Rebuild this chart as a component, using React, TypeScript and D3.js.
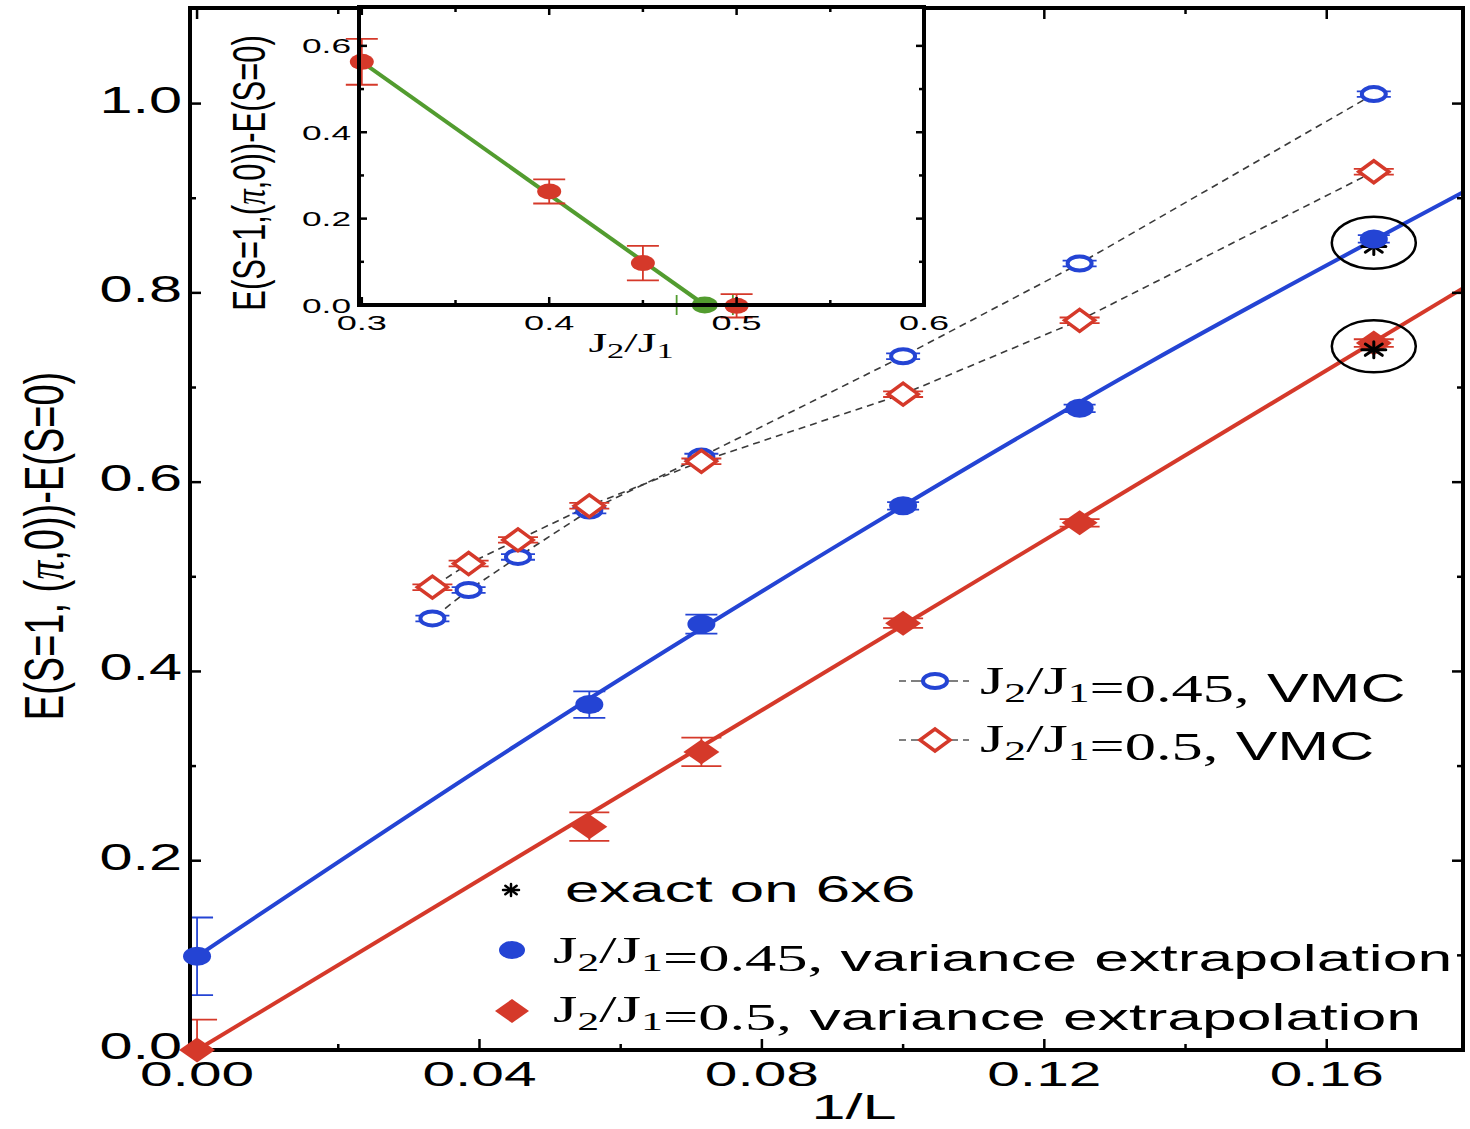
import React from 'react';
import * as d3 from 'd3';

// ---------- data (main panel) ----------
const invL = [1 / 6, 1 / 8, 1 / 10, 1 / 14, 1 / 18, 1 / 22, 1 / 26, 1 / 30];
const vmc045 = [1.010, 0.831, 0.733, 0.627, 0.570, 0.521, 0.486, 0.456];
const vmc050 = [0.928, 0.771, 0.693, 0.622, 0.575, 0.539, 0.514, 0.489];
const vmcErr = [0.003, 0.003, 0.003, 0.003, 0.003, 0.003, 0.003, 0.003];

const extX = [0, 1 / 18, 1 / 14, 1 / 10, 1 / 8, 1 / 6];
const ext045 = [0.099, 0.365, 0.450, 0.575, 0.678, 0.857];
const ext045Err = [0.041, 0.014, 0.01, 0.004, 0.004, 0.004];
const ext050 = [0.0, 0.236, 0.315, 0.451, 0.557, 0.747];
const ext050Err = [0.032, 0.015, 0.015, 0.005, 0.004, 0.004];

// fitted curves
const fit045X = [0, 0.045, 0.09, 0.135, 0.18];
const fit045 = [0.099, 0.321, 0.530, 0.727, 0.909];
const fit050X = [0, 0.18];
const fit050 = [0.0, 0.808];

const exactX = [1 / 6];
const exact045 = [0.849];
const exact050 = [0.740];

const xTicksMain = [0, 0.04, 0.08, 0.12, 0.16];
const xMinorMain = [0.02, 0.06, 0.10, 0.14];
const yTicksMain = [0, 0.2, 0.4, 0.6, 0.8, 1.0];
const yMinorMain = [0.1, 0.3, 0.5, 0.7, 0.9];

// ---------- data (inset) ----------
const insetJ = [0.3, 0.4, 0.45, 0.5];
const insetGap = [0.563, 0.263, 0.097, -0.002];
const insetErr = [0.053, 0.028, 0.04, 0.027];
const criticalJ = [0.483];
const criticalGap = [0];
const criticalErr = [0.015];
const insetFitJ = [0.3, 0.483];
const insetFitGap = [0.563, 0.0];

const xTicksInset = [0.3, 0.4, 0.5, 0.6];
const xMinorInset = [0.35, 0.45, 0.55];
const yTicksInset = [0.0, 0.2, 0.4, 0.6];
const yMinorInset = [0.1, 0.3, 0.5];

// ---------- style ----------
const BLUE = '#2444d4';
const RED = '#d5392a';
const GREEN = '#529c2f';
const SANS = '"Liberation Sans", Arial, Helvetica, sans-serif';
const SERIF = '"Liberation Serif", "Times New Roman", serif';

function SText({ x, y, sx = 1, anchor = 'start', size, family = SANS, children }: any) {
  return (
    <text
      transform={`translate(${x},${y}) scale(${sx},1)`}
      textAnchor={anchor}
      fontSize={size}
      fontFamily={family}
      fill="#000"
    >
      {children}
    </text>
  );
}

function diamond(cx: number, cy: number, w: number, h: number) {
  return `M${cx - w},${cy} L${cx},${cy - h} L${cx + w},${cy} L${cx},${cy + h} Z`;
}

function Asterisk({ cx, cy, rx, ry, sw }: any) {
  const angs = [0, 45, 90, 135];
  return (
    <g stroke="#000" strokeWidth={sw} strokeLinecap="round">
      {angs.map((a) => {
        const r = (a * Math.PI) / 180;
        const dx = Math.cos(r) * rx;
        const dy = Math.sin(r) * ry;
        return <line key={a} x1={cx - dx} y1={cy - dy} x2={cx + dx} y2={cy + dy} />;
      })}
    </g>
  );
}

function ErrBar({ x, y1, y2, cw, color, sw = 1.8 }: any) {
  return (
    <g stroke={color} strokeWidth={sw}>
      <line x1={x} y1={y1} x2={x} y2={y2} />
      <line x1={x - cw} y1={y1} x2={x + cw} y2={y1} />
      <line x1={x - cw} y1={y2} x2={x + cw} y2={y2} />
    </g>
  );
}

function J2J1({ sub, dy }: any) {
  return (
    <>
      J<tspan fontSize={sub} dy={dy}>2</tspan>
      <tspan dy={-dy}>/J</tspan>
      <tspan fontSize={sub} dy={dy}>1</tspan>
      <tspan dy={-dy}></tspan>
    </>
  );
}

export default function App() {
  // main scales
  const L = 190, R = 1463, T = 8, B = 1050;
  const x = d3.scaleLinear().domain([-0.001, 0.1793]).range([L, R]);
  const y = d3.scaleLinear().domain([0, 1.101]).range([B, T]);

  // inset scales
  const iL = 359, iR = 924, iT = 7, iB = 305;
  const xi = d3.scaleLinear().domain([0.2985, 0.6]).range([iL, iR]);
  const yi = d3.scaleLinear().domain([0, 0.69]).range([iB, iT]);

  const line = d3.line<[number, number]>().x((d) => x(d[0])).y((d) => y(d[1]));
  const curve = d3.line<[number, number]>().x((d) => x(d[0])).y((d) => y(d[1])).curve(d3.curveNatural);
  const iline = d3.line<[number, number]>().x((d) => xi(d[0])).y((d) => yi(d[1]));

  const zip = (a: number[], b: number[]) => a.map((v, i) => [v, b[i]] as [number, number]);

  const fmtMain = (v: number) => v.toFixed(2);
  const fmtY = (v: number) => v.toFixed(1);

  return (
    <svg
      width={1470}
      height={1129}
      style={{ position: 'absolute', left: 0, top: 0, background: '#fff' }}
    >
      <defs>
        <clipPath id="mainClip">
          <rect x={L} y={T} width={R - L} height={B - T} />
        </clipPath>
      </defs>
      <rect x={0} y={0} width={1470} height={1129} fill="#fff" />

      {/* ---- main panel ---- */}
      <g fill="none" stroke="#3a3a3a" strokeWidth={1.6} strokeDasharray="7,5">
        <path d={line(zip(invL, vmc045)) || ''} />
        <path d={line(zip(invL, vmc050)) || ''} />
      </g>
      <g clipPath="url(#mainClip)" fill="none" strokeWidth={4}>
        <path d={curve(zip(fit045X, fit045)) || ''} stroke={BLUE} />
        <path d={line(zip(fit050X, fit050)) || ''} stroke={RED} />
      </g>

      {/* error bars */}
      <g clipPath="url(#mainClip)">
        {invL.map((v, i) => (
          <ErrBar key={'bv' + i} x={x(v)} y1={y(vmc045[i] - vmcErr[i])} y2={y(vmc045[i] + vmcErr[i])} cw={17} color={BLUE} />
        ))}
        {invL.map((v, i) => (
          <ErrBar key={'rv' + i} x={x(v)} y1={y(vmc050[i] - vmcErr[i])} y2={y(vmc050[i] + vmcErr[i])} cw={20} color={RED} />
        ))}
        {extX.map((v, i) => (
          <ErrBar key={'be' + i} x={x(v)} y1={y(ext045[i] - ext045Err[i])} y2={y(ext045[i] + ext045Err[i])} cw={16} color={BLUE} />
        ))}
        {extX.map((v, i) => (
          <ErrBar key={'re' + i} x={x(v)} y1={y(ext050[i] - ext050Err[i])} y2={y(ext050[i] + ext050Err[i])} cw={20} color={RED} />
        ))}
      </g>

      {/* frame */}
      <rect x={L} y={T} width={R - L} height={B - T} fill="none" stroke="#000" strokeWidth={4} />
      <g stroke="#000" strokeWidth={2.5}>
        {xTicksMain.map((v) => (
          <g key={'xt' + v}>
            <line x1={x(v)} x2={x(v)} y1={B} y2={B - 11} />
            <line x1={x(v)} x2={x(v)} y1={T} y2={T + 11} />
          </g>
        ))}
        {xMinorMain.map((v) => (
          <g key={'xm' + v}>
            <line x1={x(v)} x2={x(v)} y1={B} y2={B - 6} />
            <line x1={x(v)} x2={x(v)} y1={T} y2={T + 6} />
          </g>
        ))}
        {yTicksMain.map((v) => (
          <g key={'yt' + v}>
            <line x1={L} x2={L + 11} y1={y(v)} y2={y(v)} />
            <line x1={R} x2={R - 11} y1={y(v)} y2={y(v)} />
          </g>
        ))}
        {yMinorMain.map((v) => (
          <g key={'ym' + v}>
            <line x1={L} x2={L + 6} y1={y(v)} y2={y(v)} />
            <line x1={R} x2={R - 6} y1={y(v)} y2={y(v)} />
          </g>
        ))}
      </g>

      {/* exact (blue one lies under the dot) */}
      {exactX.map((v, i) => (
        <Asterisk key={'exb' + i} cx={x(v)} cy={y(exact045[i])} rx={12} ry={8} sw={3} />
      ))}

      {/* markers: VMC */}
      {invL.map((v, i) => (
        <ellipse key={'bo' + i} cx={x(v)} cy={y(vmc045[i])} rx={12} ry={7} fill="#fff" stroke={BLUE} strokeWidth={4} />
      ))}
      {invL.map((v, i) => (
        <path key={'ro' + i} d={diamond(x(v), y(vmc050[i]), 15, 11)} fill="#fff" stroke={RED} strokeWidth={3.5} />
      ))}
      {/* markers: extrapolation */}
      {extX.map((v, i) => (
        <ellipse key={'bf' + i} cx={x(v)} cy={y(ext045[i])} rx={14} ry={9.5} fill={BLUE} />
      ))}
      {extX.map((v, i) => (
        <path key={'rf' + i} d={diamond(x(v), y(ext050[i]), 18, 12.5)} fill={RED} />
      ))}
      {exactX.map((v, i) => (
        <g key={'ex' + i}>
          <Asterisk cx={x(v)} cy={y(exact050[i])} rx={12} ry={8} sw={3} />
          <ellipse cx={x(v)} cy={y((exact045[i] + ext045[5]) / 2)} rx={42} ry={26} fill="none" stroke="#000" strokeWidth={2.5} />
          <ellipse cx={x(v)} cy={y((exact050[i] + ext050[5]) / 2)} rx={42} ry={26} fill="none" stroke="#000" strokeWidth={2.5} />
        </g>
      ))}

      {/* tick labels */}
      {xTicksMain.map((v) => (
        <SText key={'xl' + v} x={x(v)} y={1086} sx={1.63} anchor="middle" size={36}>
          {fmtMain(v)}
        </SText>
      ))}
      {yTicksMain.map((v) => (
        <SText key={'yl' + v} x={182} y={y(v) + 9} sx={1.65} anchor="end" size={36}>
          {fmtY(v)}
        </SText>
      ))}
      <SText x={854} y={1119} sx={1.7} anchor="middle" size={36}>1/L</SText>
      <text
        transform="translate(63,546) scale(1.45,1) rotate(-90)"
        textAnchor="middle"
        fontSize={38}
        fontFamily={SANS}
      >
        E(S=1, (<tspan fontFamily={SERIF} fontStyle="italic">π</tspan>,0))-E(S=0)
      </text>

      {/* legend VMC */}
      <g stroke="#555" strokeWidth={1.5}>
        <line x1={899} x2={906} y1={681} y2={681} />
        <line x1={911} x2={922} y1={681} y2={681} />
        <line x1={948} x2={958} y1={681} y2={681} />
        <line x1={963} x2={969} y1={681} y2={681} />
        <line x1={899} x2={906} y1={740} y2={740} />
        <line x1={911} x2={920} y1={740} y2={740} />
        <line x1={950} x2={958} y1={740} y2={740} />
        <line x1={963} x2={969} y1={740} y2={740} />
      </g>
      <ellipse cx={935} cy={681} rx={12} ry={7} fill="#fff" stroke={BLUE} strokeWidth={4} />
      <path d={diamond(935, 740, 15, 11)} fill="#fff" stroke={RED} strokeWidth={3.5} />
      <SText x={980} y={694} sx={1.56} size={40}>
        <tspan fontFamily={SERIF}><J2J1 sub={28} dy={8} />=0.45,</tspan> VMC
      </SText>
      <SText x={980} y={752} sx={1.56} size={40}>
        <tspan fontFamily={SERIF}><J2J1 sub={28} dy={8} />=0.5,</tspan> VMC
      </SText>

      {/* legend lower */}
      <Asterisk cx={511} cy={890} rx={8} ry={6} sw={2.5} />
      <ellipse cx={512} cy={950} rx={13} ry={9} fill={BLUE} />
      <path d={diamond(512, 1011, 17, 12)} fill={RED} />
      <SText x={565} y={902} sx={1.67} size={37}>exact on 6x6</SText>
      <SText x={553} y={963} sx={1.69} size={37}>
        <tspan fontFamily={SERIF}><J2J1 sub={26} dy={8} />=0.45,</tspan> variance extrapolation
      </SText>
      <SText x={553} y={1022} sx={1.69} size={37}>
        <tspan fontFamily={SERIF}><J2J1 sub={26} dy={8} />=0.5,</tspan> variance extrapolation
      </SText>

      {/* ---- inset ---- */}
      <rect x={iL} y={iT} width={iR - iL} height={iB - iT} fill="#fff" />
      <path d={iline(zip(insetFitJ, insetFitGap)) || ''} fill="none" stroke={GREEN} strokeWidth={4} />
      {insetJ.map((v, i) => (
        <ErrBar key={'ie' + i} x={xi(v)} y1={yi(insetGap[i] - insetErr[i])} y2={yi(insetGap[i] + insetErr[i])} cw={16} color={RED} sw={1.8} />
      ))}
      {criticalJ.map((v, i) => (
        <g key={'ce' + i} stroke={GREEN} strokeWidth={1.8}>
          <line x1={xi(v - criticalErr[i])} x2={xi(v + criticalErr[i])} y1={yi(criticalGap[i])} y2={yi(criticalGap[i])} />
          <line x1={xi(v - criticalErr[i])} x2={xi(v - criticalErr[i])} y1={yi(criticalGap[i]) - 10} y2={yi(criticalGap[i]) + 10} />
          <line x1={xi(v + criticalErr[i])} x2={xi(v + criticalErr[i])} y1={yi(criticalGap[i]) - 10} y2={yi(criticalGap[i]) + 10} />
        </g>
      ))}
      {insetJ.map((v, i) => (
        <ellipse key={'ip' + i} cx={xi(v)} cy={yi(insetGap[i])} rx={12} ry={8} fill={RED} />
      ))}
      {criticalJ.map((v, i) => (
        <ellipse key={'cp' + i} cx={xi(v)} cy={yi(criticalGap[i])} rx={13} ry={8.5} fill={GREEN} />
      ))}
      <rect x={iL} y={iT} width={iR - iL} height={iB - iT} fill="none" stroke="#000" strokeWidth={4} />
      <g stroke="#000" strokeWidth={2.5}>
        {xTicksInset.map((v) => (
          <g key={'ixt' + v}>
            <line x1={xi(v)} x2={xi(v)} y1={iB} y2={iB - 8} />
            <line x1={xi(v)} x2={xi(v)} y1={iT} y2={iT + 8} />
          </g>
        ))}
        {xMinorInset.map((v) => (
          <g key={'ixm' + v}>
            <line x1={xi(v)} x2={xi(v)} y1={iB} y2={iB - 5} />
            <line x1={xi(v)} x2={xi(v)} y1={iT} y2={iT + 5} />
          </g>
        ))}
        {yTicksInset.map((v) => (
          <g key={'iyt' + v}>
            <line x1={iL} x2={iL + 8} y1={yi(v)} y2={yi(v)} />
            <line x1={iR} x2={iR - 8} y1={yi(v)} y2={yi(v)} />
          </g>
        ))}
        {yMinorInset.map((v) => (
          <g key={'iym' + v}>
            <line x1={iL} x2={iL + 5} y1={yi(v)} y2={yi(v)} />
            <line x1={iR} x2={iR - 5} y1={yi(v)} y2={yi(v)} />
          </g>
        ))}
      </g>
      {xTicksInset.map((v) => (
        <SText key={'ixl' + v} x={xi(v)} y={330} sx={1.72} anchor="middle" size={21}>
          {v.toFixed(1)}
        </SText>
      ))}
      {yTicksInset.map((v) => (
        <SText key={'iyl' + v} x={351} y={yi(v) + 7.5} sx={1.68} anchor="end" size={21}>
          {v.toFixed(1)}
        </SText>
      ))}
      <SText x={631} y={352} sx={1.72} anchor="middle" size={28} family={SERIF}>
        <J2J1 sub={20} dy={6} />
      </SText>
      <text
        transform="translate(265,173) scale(1.5,1) rotate(-90)"
        textAnchor="middle"
        fontSize={31}
        fontFamily={SANS}
      >
        E(S=1,(<tspan fontFamily={SERIF} fontStyle="italic">π</tspan>,0))-E(S=0)
      </text>
    </svg>
  );
}
